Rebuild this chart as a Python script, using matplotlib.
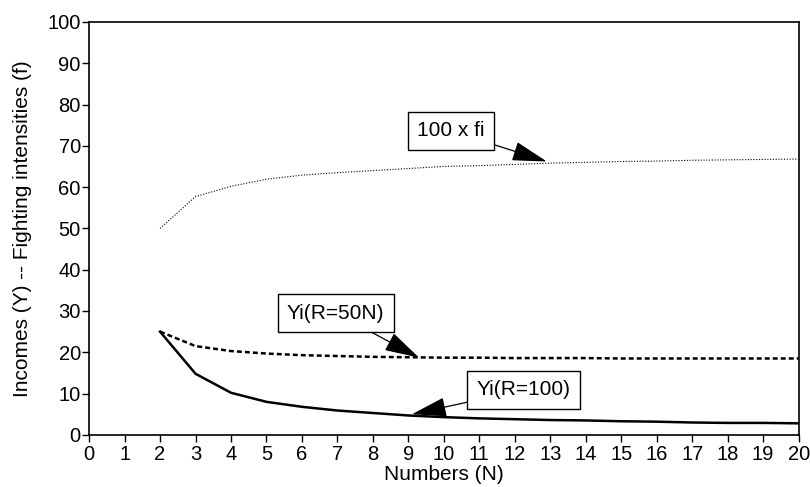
import matplotlib.pyplot as plt

plt.rcParams['font.family'] = ['Liberation Sans', 'DejaVu Sans']

N = [2, 3, 4, 5, 6, 7, 8, 9, 10, 11, 12, 13, 14, 15, 16, 17, 18, 19, 20]
fi_100 = [50.0, 57.7, 60.2, 61.9, 62.9, 63.5, 64.0, 64.5, 65.0, 65.2, 65.5,
          65.8, 66.0, 66.2, 66.3, 66.5, 66.6, 66.7, 66.8]
y_r50n = [25.0, 21.5, 20.3, 19.7, 19.3, 19.1, 18.9, 18.8, 18.7, 18.7, 18.6,
          18.6, 18.6, 18.5, 18.5, 18.5, 18.5, 18.5, 18.5]
y_r100 = [25.0, 14.8, 10.2, 8.0, 6.8, 5.9, 5.3, 4.7, 4.3, 4.0, 3.8,
          3.6, 3.5, 3.3, 3.2, 3.0, 2.9, 2.9, 2.8]

fig = plt.figure(figsize=(8.1, 4.87), dpi=100)
ax = fig.add_axes([0.110, 0.107, 0.876, 0.848])

ax.plot(N, fi_100, color="black", lw=0.8, linestyle=(0, (1, 1.5)))
ax.plot(N, y_r50n, color="black", lw=1.8, linestyle=(0, (2, 1.2)))
ax.plot(N, y_r100, color="black", lw=1.8)

ax.set_xlim(0, 20)
ax.set_ylim(0, 100)
ax.set_xticks(range(0, 21))
ax.set_yticks(range(0, 101, 10))
ax.tick_params(direction="out", length=5, width=1, labelsize=14.5, pad=1)
ax.tick_params(axis="x", pad=2)
for s in ax.spines.values():
    s.set_linewidth(1.2)

ax.set_xlabel("Numbers (N)", fontsize=15, labelpad=1)
ax.set_ylabel("Incomes (Y) -- Fighting intensities (f)", fontsize=15, labelpad=11)

box = dict(boxstyle="square,pad=0.45", fc="white", ec="black", lw=1)
arrow = dict(arrowstyle="-|>,head_length=1.0,head_width=0.28", color="black",
             lw=0.9, shrinkA=0, shrinkB=0, mutation_scale=22)
ax.annotate("100 x fi", xy=(12.9, 66.2), xytext=(10.2, 73.6), fontsize=15,
            ha="center", va="center", bbox=box, arrowprops=arrow)
ax.annotate("Yi(R=50N)", xy=(9.3, 18.7), xytext=(6.95, 29.5), fontsize=15,
            ha="center", va="center", bbox=box, arrowprops=arrow)
ax.annotate("Yi(R=100)", xy=(9.1, 5.0), xytext=(12.25, 10.9), fontsize=15,
            ha="center", va="center", bbox=box, arrowprops=arrow)

fig.savefig("out.png", dpi=100)
